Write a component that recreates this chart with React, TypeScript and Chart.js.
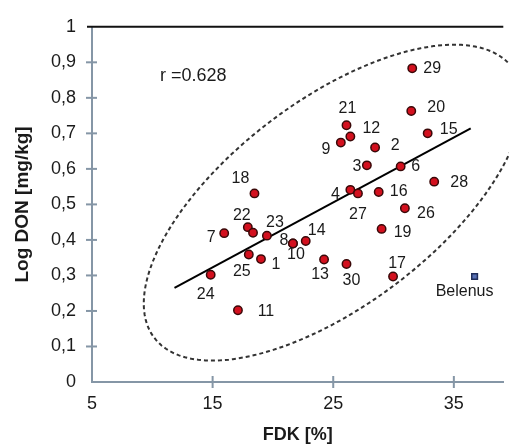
import React, { useEffect, useRef } from "react";
import { Chart, registerables } from "chart.js";

Chart.register(...registerables);

// Sample labels (one blank for an unlabelled point)
const sampleIds = ["29", "20", "15", "21", "12", "9", "2", "3", "6", "28", "4", "27", "16", "26", "18", "7", "22", "", "23", "8", "10", "14", "25", "1", "24", "11", "13", "30", "19", "17"];
// FDK [%]
const fdkValues = [31.55, 31.47, 32.83, 26.1, 26.42, 25.63, 28.47, 27.79, 30.59, 33.37, 26.42, 27.05, 28.77, 30.94, 18.47, 15.96, 17.92, 18.35, 19.5, 21.66, 21.66, 22.72, 18.0, 19.01, 14.84, 17.1, 24.24, 26.1, 29.01, 29.96];
// Log DON [mg/kg]
const donValues = [0.883, 0.763, 0.7, 0.723, 0.691, 0.674, 0.66, 0.61, 0.607, 0.564, 0.541, 0.531, 0.535, 0.489, 0.531, 0.419, 0.436, 0.42, 0.412, 0.39, 0.39, 0.397, 0.359, 0.346, 0.302, 0.202, 0.345, 0.332, 0.431, 0.297];

const referenceName = ["Belenus"];
const referenceFdk = [36.72];
const referenceDon = [0.297];

// Regression line end points
const trendFdk = [11.84, 36.4];
const trendDon = [0.265, 0.714];

const correlationText = "r =0.628";
const correlationAt = [13.4, 0.861];

// Confidence ellipse: centre and two conjugate half-axis vectors (data units)
const ellipseCentre = [25.0, 0.505];
const ellipseAxisU = [14.85, 0.38];
const ellipseAxisV = [-5.12, 0.231];

const xTicks = [5, 15, 25, 35];
const yMin = 0;
const yMax = 1;
const xMin = 5;
const xMax = 39.1;

// label placement (pixel offsets from the point)
const labelOffsets = [
  [20, 0], [25, -3], [21, -4], [1, -17], [21, -8], [-15, 7], [20, -2], [-10, 1], [15, 0], [25, 1],
  [-15, 5], [0, 21], [20, 0], [21, 5], [-14, -15], [-13, 4], [-6, -12], [0, 0], [8, -13], [-9, -3],
  [3, 11], [11, -10], [-7, 17], [15, 5], [-5, 20], [28, 1], [-4, 15], [5, 17], [21, 4], [4, -13],
];
const referenceOffsets = [[-10, 15]];

const FONT = "'Liberation Sans', Arial, sans-serif";
const AXIS_COLOR = "#8596a6";

export default function App() {
  const ref = useRef<HTMLCanvasElement>(null);

  useEffect(() => {
    document.body.style.margin = "0";
    const canvas = ref.current;
    if (!canvas) return;

    const decorations = {
      id: "decorations",
      beforeDatasetsDraw(chart: any) {
        const { ctx, scales } = chart;
        const xs = scales.x;
        const ys = scales.y;
        // ellipse
        ctx.save();
        ctx.strokeStyle = "#333";
        ctx.lineWidth = 2;
        ctx.setLineDash([4, 3]);
        ctx.beginPath();
        const cx = xs.getPixelForValue(ellipseCentre[0]);
        const cy = ys.getPixelForValue(ellipseCentre[1]);
        const ux = xs.getPixelForValue(ellipseCentre[0] + ellipseAxisU[0]) - cx;
        const uy = ys.getPixelForValue(ellipseCentre[1] + ellipseAxisU[1]) - cy;
        const vx = xs.getPixelForValue(ellipseCentre[0] + ellipseAxisV[0]) - cx;
        const vy = ys.getPixelForValue(ellipseCentre[1] + ellipseAxisV[1]) - cy;
        const steps = 240;
        for (let i = 0; i <= steps; i++) {
          const t = (i / steps) * Math.PI * 2;
          const px = cx + ux * Math.cos(t) + vx * Math.sin(t);
          const py = cy + uy * Math.cos(t) + vy * Math.sin(t);
          if (i === 0) ctx.moveTo(px, py);
          else ctx.lineTo(px, py);
        }
        ctx.stroke();
        ctx.restore();

        // top line at y = 1
        ctx.save();
        ctx.strokeStyle = "#111";
        ctx.lineWidth = 2;
        const topY = ys.getPixelForValue(yMax);
        ctx.beginPath();
        ctx.moveTo(xs.left - 5, topY);
        ctx.lineTo(xs.right, topY);
        ctx.stroke();
        ctx.restore();

        // crossing ticks
        ctx.save();
        ctx.strokeStyle = AXIS_COLOR;
        ctx.lineWidth = 2;
        const axisX = xs.left;
        ys.ticks.forEach((t: any) => {
          if (t.value === yMax || t.value === yMin) return;
          const py = ys.getPixelForValue(t.value);
          ctx.beginPath();
          ctx.moveTo(axisX - 6, py);
          ctx.lineTo(axisX + 5, py);
          ctx.stroke();
        });
        const axisY = ys.bottom;
        xs.ticks.forEach((t: any) => {
          if (t.value === xMin) return;
          const px = xs.getPixelForValue(t.value);
          ctx.beginPath();
          ctx.moveTo(px, axisY - 6);
          ctx.lineTo(px, axisY + 6);
          ctx.stroke();
        });
        ctx.restore();
      },
      afterDatasetsDraw(chart: any) {
        const { ctx, scales } = chart;
        const xs = scales.x;
        const ys = scales.y;
        ctx.save();
        ctx.fillStyle = "#1a1a1a";
        ctx.font = `16px ${FONT}`;
        ctx.textAlign = "center";
        ctx.textBaseline = "middle";
        sampleIds.forEach((id, i) => {
          if (!id) return;
          const px = xs.getPixelForValue(fdkValues[i]);
          const py = ys.getPixelForValue(donValues[i]);
          ctx.fillText(id, px + labelOffsets[i][0], py + labelOffsets[i][1]);
        });
        referenceName.forEach((name, i) => {
          const px = xs.getPixelForValue(referenceFdk[i]);
          const py = ys.getPixelForValue(referenceDon[i]);
          ctx.fillText(name, px + referenceOffsets[i][0], py + referenceOffsets[i][1]);
        });
        ctx.font = `18px ${FONT}`;
        ctx.fillText(
          correlationText,
          xs.getPixelForValue(correlationAt[0]),
          ys.getPixelForValue(correlationAt[1])
        );
        ctx.restore();
      },
    };

    const chart = new Chart(canvas, {
      type: "scatter",
      data: {
        datasets: [
          {
            label: "samples",
            data: fdkValues.map((x, i) => ({ x, y: donValues[i] })),
            backgroundColor: "#d3101e",
            borderColor: "#3a0808",
            borderWidth: 1.5,
            pointRadius: 4.2,
            order: 0,
          },
          {
            label: "reference",
            data: referenceFdk.map((x, i) => ({ x, y: referenceDon[i] })),
            pointStyle: "rect",
            backgroundColor: "#5870b4",
            borderColor: "#1f2d5a",
            borderWidth: 1.5,
            pointRadius: 4,
            order: 1,
          },
          {
            type: "line",
            label: "trend",
            data: trendFdk.map((x, i) => ({ x, y: trendDon[i] })),
            borderColor: "#000",
            borderWidth: 2,
            pointRadius: 0,
            showLine: true,
            fill: false,
            order: 2,
          } as any,
        ],
      },
      options: {
        responsive: false,
        animation: false,
        devicePixelRatio: 1,
        layout: { padding: { top: 22, right: 0, left: 0, bottom: 0 } },
        plugins: {
          legend: { display: false },
          tooltip: { enabled: false },
        },
        scales: {
          x: {
            type: "linear",
            min: xMin,
            max: xMax,
            afterBuildTicks: (scale: any) => {
              scale.ticks = xTicks.map((v) => ({ value: v }));
            },
            afterFit: (scale: any) => {
              scale.height = 62;
            },
            grid: { display: true, drawOnChartArea: false, drawTicks: false },
            border: { display: true, color: AXIS_COLOR, width: 2 },
            ticks: {
              padding: 11,
              color: "#1a1a1a",
              font: { family: FONT, size: 18 },
              maxRotation: 0,
              autoSkip: false,
            },
            title: {
              display: true,
              text: "FDK [%]",
              color: "#1a1a1a",
              font: { family: FONT, size: 18, weight: "bold", lineHeight: 1 },
              padding: { top: 0, bottom: 0 },
            },
          },
          y: {
            type: "linear",
            min: yMin,
            max: yMax,
            afterFit: (scale: any) => {
              scale.width = 92;
            },
            grid: { display: true, drawOnChartArea: false, drawTicks: false },
            border: { display: true, color: AXIS_COLOR, width: 2 },
            ticks: {
              stepSize: 0.1,
              padding: 16,
              color: "#1a1a1a",
              font: { family: FONT, size: 18 },
              callback: (v: any) => {
                const n = Number(v);
                if (Math.abs(n) < 1e-9) return "0";
                if (Math.abs(n - 1) < 1e-9) return "1";
                return n.toFixed(1).replace(".", ",");
              },
            },
            title: {
              display: true,
              text: "Log DON [mg/kg]",
              color: "#1a1a1a",
              font: { family: FONT, size: 19, weight: "bold", lineHeight: 1 },
              padding: { top: 13, bottom: 0 },
            },
          },
        },
      },
      plugins: [decorations],
    });

    return () => chart.destroy();
  }, []);

  return (
    <div style={{ width: 509, height: 444 }}>
      <canvas ref={ref} width={509} height={444} style={{ display: "block" }} />
    </div>
  );
}
